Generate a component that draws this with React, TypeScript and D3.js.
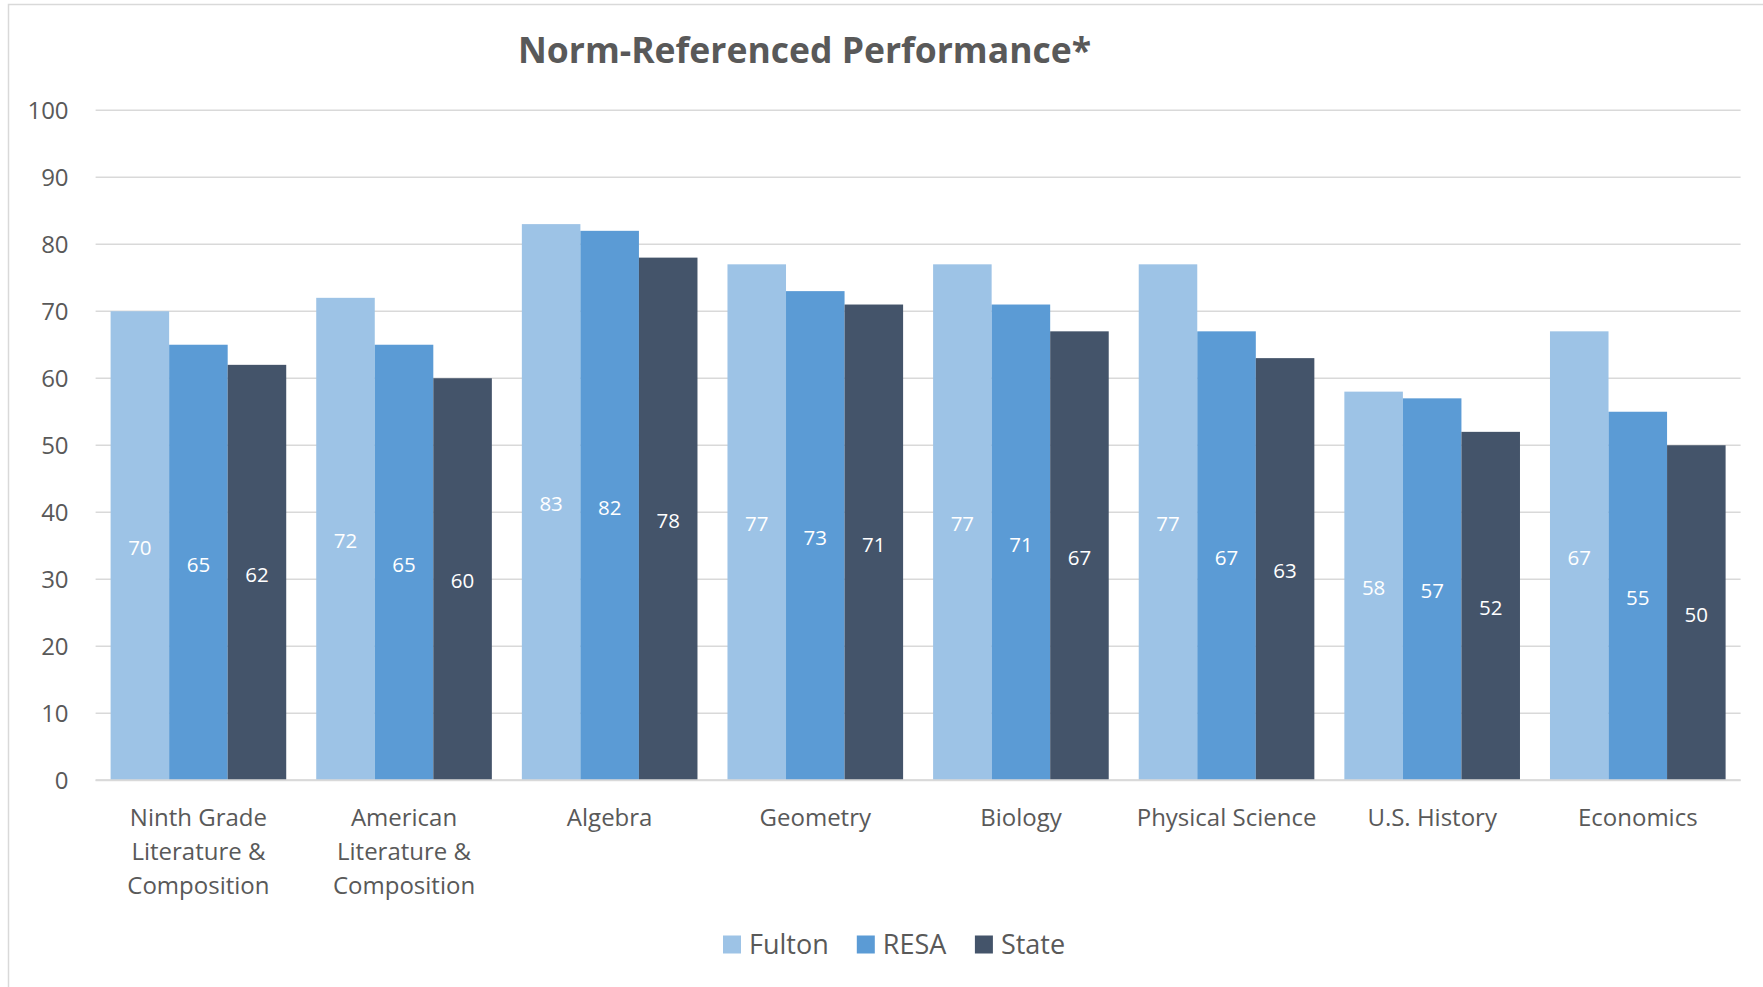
import React, { useEffect, useRef } from 'react';
import * as d3 from 'd3';

const categories = [
    'Ninth Grade|Literature &|Composition',
    'American|Literature &|Composition',
    'Algebra',
    'Geometry',
    'Biology',
    'Physical Science',
    'U.S. History',
    'Economics',
];
const seriesNames = ['Fulton', 'RESA', 'State'];
const fultonValues = [70, 72, 83, 77, 77, 77, 58, 67];
const resaValues = [65, 65, 82, 73, 71, 67, 57, 55];
const stateValues = [62, 60, 78, 71, 67, 63, 52, 50];
const yTicks = [0, 10, 20, 30, 40, 50, 60, 70, 80, 90, 100];
const colors = ['#9DC3E6', '#5B9BD5', '#44546A'];

const App = () => {
    const svgRef = useRef(null);

    useEffect(() => {
        const width = 1763;
        const height = 987;
        const left = 95.6;
        const right = 1740.6;
        const top = 110.2;
        const bottom = 780.3;
        const font = '"Open Sans", sans-serif';
        const textColor = '#595959';

        const svg = d3.select(svgRef.current)
            .attr('width', width)
            .attr('height', height);
        svg.selectAll('*').remove();

        // рамка
        svg.append('rect')
            .attr('x', 8.5).attr('y', 4.5)
            .attr('width', width + 20).attr('height', height + 20)
            .attr('fill', '#fff')
            .attr('stroke', '#D9D9D9')
            .attr('stroke-width', 1.5);

        const x0 = d3.scaleBand().domain(categories).range([left, right]).padding(0);
        const gap = 15;
        const x1 = d3.scaleBand().domain(seriesNames).range([gap, x0.bandwidth() - gap]).padding(0);
        const y = d3.scaleLinear().domain([0, 100]).range([bottom, top]);

        // сетка
        svg.append('g').selectAll('line')
            .data(yTicks)
            .enter()
            .append('line')
            .attr('x1', left).attr('x2', right)
            .attr('y1', d => y(d)).attr('y2', d => y(d))
            .attr('stroke', '#D9D9D9')
            .attr('stroke-width', 1.5);

        svg.append('g').selectAll('text')
            .data(yTicks)
            .enter()
            .append('text')
            .attr('x', 68.6)
            .attr('y', d => y(d))
            .attr('dy', '0.35em')
            .attr('text-anchor', 'end')
            .style('font-family', font)
            .style('font-size', '24px')
            .style('fill', textColor)
            .text(d => d);

        const series = [fultonValues, resaValues, stateValues];

        const groups = svg.append('g').selectAll('g')
            .data(categories)
            .enter()
            .append('g')
            .attr('transform', d => `translate(${x0(d)},0)`);

        groups.each(function (cat, ci) {
            const g = d3.select(this);
            seriesNames.forEach((s, si) => {
                const v = series[si][ci];
                g.append('rect')
                    .attr('x', x1(s))
                    .attr('y', y(v))
                    .attr('width', x1.bandwidth())
                    .attr('height', y(0) - y(v))
                    .attr('fill', colors[si]);
                g.append('text')
                    .attr('x', x1(s) + x1.bandwidth() / 2)
                    .attr('y', (y(v) + y(0)) / 2 + 2)
                    .attr('dy', '0.35em')
                    .attr('text-anchor', 'middle')
                    .style('font-family', font)
                    .style('font-size', '20.5px')
                    .style('fill', '#fff')
                    .text(v);
            });
        });

        // ось X
        svg.append('line')
            .attr('x1', left).attr('x2', right)
            .attr('y1', y(0)).attr('y2', y(0))
            .attr('stroke', '#D9D9D9')
            .attr('stroke-width', 2);

        groups.append('text')
            .attr('text-anchor', 'middle')
            .style('font-family', font)
            .style('font-size', '24px')
            .style('fill', textColor)
            .each(function (d) {
                const text = d3.select(this);
                d.split('|').forEach((line, i) => {
                    text.append('tspan')
                        .attr('x', x0.bandwidth() / 2)
                        .attr('y', 826 + i * 34)
                        .text(line);
                });
            });

        // заголовок
        svg.append('text')
            .attr('x', 804.5)
            .attr('y', 62.6)
            .attr('text-anchor', 'middle')
            .style('font-family', font)
            .style('font-size', '35.5px')
            .style('font-weight', 'bold')
            .style('fill', textColor)
            .text('Norm-Referenced Performance*');

        // легенда
        const legendX = [723, 856.8, 974.9];
        const legend = svg.append('g').selectAll('g')
            .data(seriesNames)
            .enter()
            .append('g')
            .attr('transform', (d, i) => `translate(${legendX[i]},935.5)`);
        legend.append('rect')
            .attr('width', 18).attr('height', 18)
            .attr('fill', (d, i) => colors[i]);
        legend.append('text')
            .attr('x', 26)
            .attr('y', 18.5)
            .style('font-family', font)
            .style('font-size', '27px')
            .style('fill', textColor)
            .text(d => d);
    }, []);

    return <svg ref={svgRef} style={{ position: 'absolute', left: 0, top: 0 }}></svg>;
};

export default App;
